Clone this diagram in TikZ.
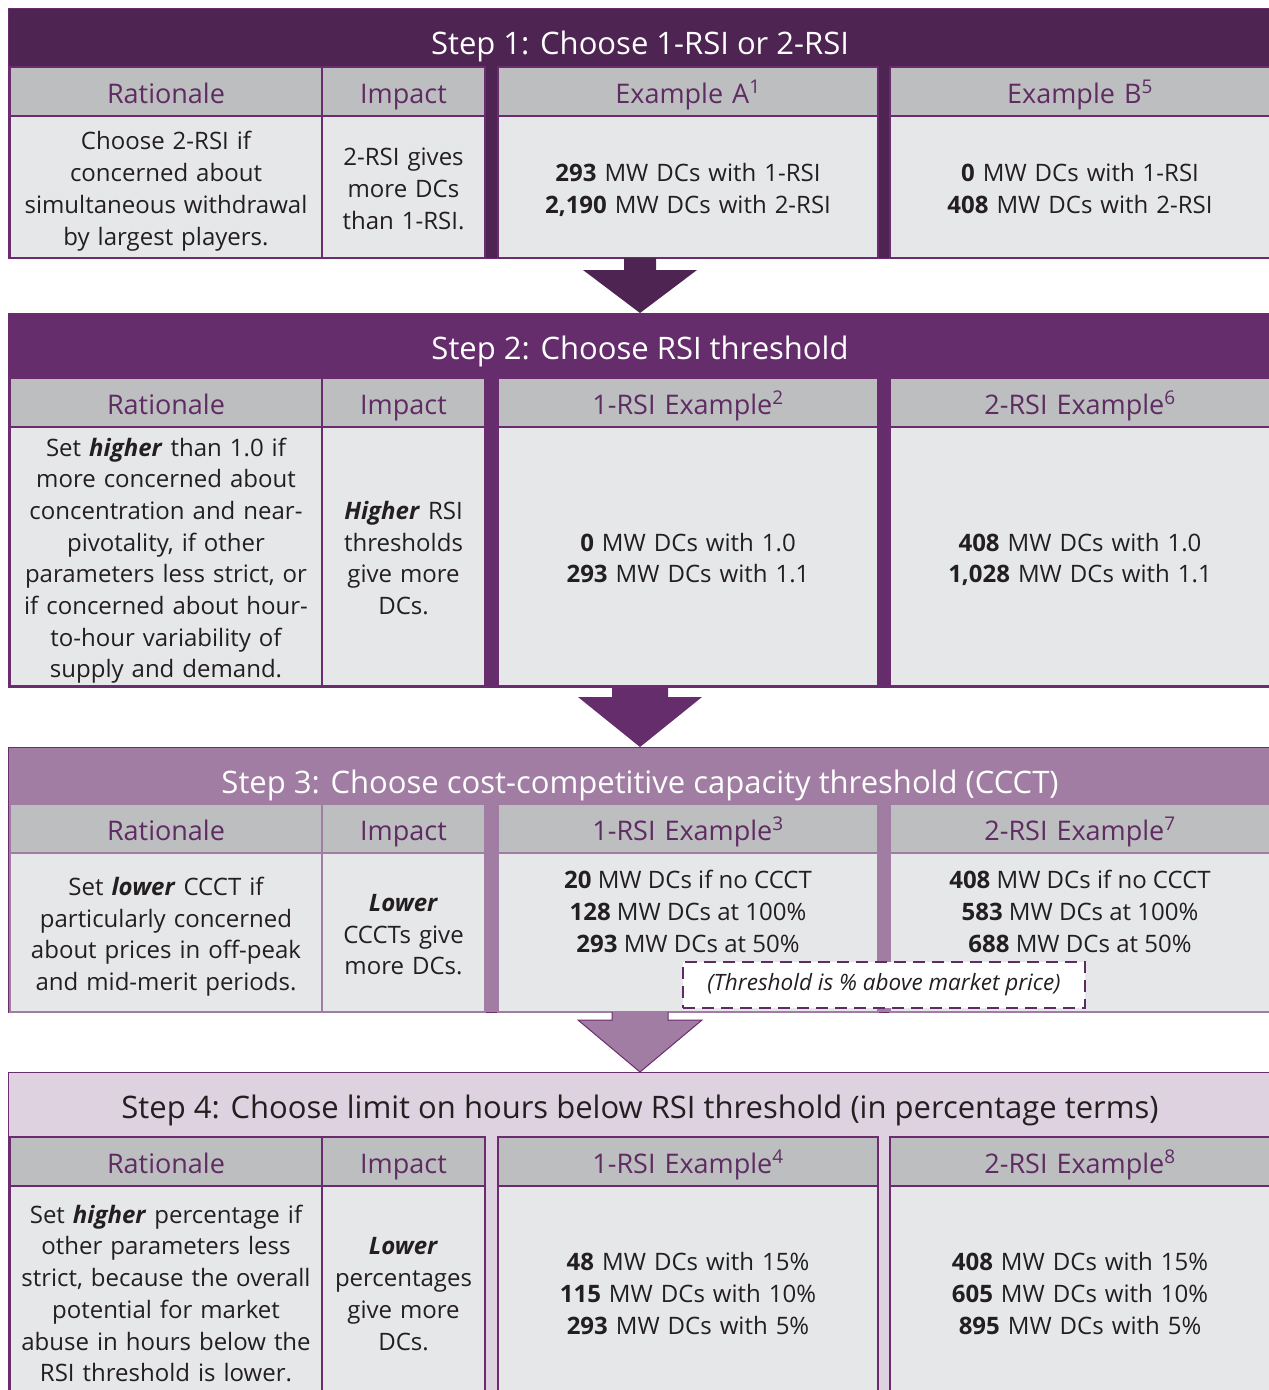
\documentclass[tikz,border=0pt]{standalone}
\usepackage{fontspec}
\setmainfont{Open Sans}
\usetikzlibrary{positioning, calc}

\definecolor{plumA}{HTML}{4E2452}
\definecolor{plumB}{HTML}{652D6C}
\definecolor{plumC}{HTML}{A17DA3}
\definecolor{plumD}{HTML}{DED1E0}
\definecolor{plumline}{HTML}{6A2C6E}
\definecolor{headgray}{HTML}{BDBEC0}
\definecolor{cellgray}{HTML}{E6E7E8}
\definecolor{headtext}{HTML}{5F2B63}
\definecolor{bodytext}{HTML}{231F20}

\begin{document}
\begin{tikzpicture}[
        x=1pt, y=-1pt,
        stepbox/.style={draw=plumline, line width=1pt, minimum width=1264pt,
            anchor=north west, inner sep=0pt, outer sep=0pt},
        steptitle/.style={anchor=base, inner sep=0pt,
            font=\fontsize{31}{36}\selectfont},
        head/.style={draw=#1, line width=1.5pt, fill=headgray, text=headtext,
            minimum height=49pt, inner sep=0pt, outer sep=0pt, align=center,
            font=\fontsize{27}{32}\selectfont, text height=25pt, text depth=2pt},
        head/.default=plumline,
        cell/.style={draw=#1, line width=1.5pt, fill=cellgray, text=bodytext,
            inner sep=0pt, outer sep=0pt, align=center,
            font=\fontsize{24}{31.7}\selectfont,
            execute at begin node={\rule{0pt}{27pt}},
            execute at end node={\rule[-6pt]{0pt}{6pt}}},
        cell/.default=plumline,
        numtext/.style={text=bodytext, inner sep=0pt, align=center,
            font=\fontsize{24}{31.7}\selectfont,
            execute at begin node={\rule{0pt}{27pt}},
            execute at end node={\rule[-6pt]{0pt}{6pt}}},
        notebox/.style={draw=headtext, fill=white, line width=2.5pt,
            dash pattern=on 12pt off 7pt, minimum width=402pt, minimum height=46pt,
            text=bodytext, font=\fontsize{22.5}{26}\selectfont\itshape},
        colR/.style={text width=312pt},
        colI/.style={text width=163pt},
        colE/.style={text width=380pt}]

    \useasboundingbox (0,0) rectangle (1269,1390);
    \clip (0,0) rectangle (1269,1390);

    % step 1
    \node [stepbox, fill=plumA, minimum height=250pt] (s1) at (8,8) {};
    \node [steptitle, text=white] (t1) at ($(s1.north)+(0,46)$) {Step 1: Choose 1-RSI or 2-RSI};
    \node [head, colR, anchor=north west] (h1r) at (10,67) {Rationale};
    \node [head, colI] (h1i) [right=0pt of h1r] {Impact};
    \node [head, colE] (h1a) [right=13pt of h1i] {Example A\textsuperscript{1}};
    \node [head, colE] (h1b) [right=12pt of h1a] {Example B\textsuperscript{5}};
    \node [cell, colR, minimum height=142pt] (b1r) [below=0pt of h1r]
        {Choose 2-RSI if\\concerned about\\simultaneous withdrawal\\by largest players.};
    \node [cell, colI, minimum height=142pt] (b1i) [below=0pt of h1i]
        {2-RSI gives\\more DCs\\than 1-RSI.};
    \node [cell, colE, minimum height=142pt] (b1a) [below=0pt of h1a]
        {\textbf{293} MW DCs with 1-RSI\\\textbf{2,190} MW DCs with 2-RSI};
    \node [cell, colE, minimum height=142pt] (b1b) [below=0pt of h1b]
        {\textbf{0} MW DCs with 1-RSI\\\textbf{408} MW DCs with 2-RSI};

    % step 2
    \node [stepbox, fill=plumB, minimum height=374pt] (s2) at (8,313) {};
    \node [steptitle, text=white] (t2) at ($(s2.north)+(0,46)$) {Step 2: Choose RSI threshold};
    \node [head, colR, anchor=north west] (h2r) at (10,378) {Rationale};
    \node [head, colI] (h2i) [right=0pt of h2r] {Impact};
    \node [head, colE] (h2a) [right=13pt of h2i] {1-RSI Example\textsuperscript{2}};
    \node [head, colE] (h2b) [right=12pt of h2a] {2-RSI Example\textsuperscript{6}};
    \node [cell, colR, minimum height=259pt] (b2r) [below=0pt of h2r]
        {Set \textbf{\textit{higher}} than 1.0 if\\more concerned about\\concentration and near-\\pivotality, if other\\parameters less strict, or\\if concerned about hour-\\to-hour variability of\\supply and demand.};
    \node [cell, colI, minimum height=259pt] (b2i) [below=0pt of h2i]
        {\textbf{\textit{Higher}} RSI\\thresholds\\give more\\DCs.};
    \node [cell, colE, minimum height=259pt] (b2a) [below=0pt of h2a]
        {\textbf{0} MW DCs with 1.0\\\textbf{293} MW DCs with 1.1};
    \node [cell, colE, minimum height=259pt] (b2b) [below=0pt of h2b]
        {\textbf{408} MW DCs with 1.0\\\textbf{1,028} MW DCs with 1.1};

    % step 3
    \node [stepbox, fill=plumC, minimum height=265pt] (s3) at (8,747) {};
    \node [steptitle, text=white] (t3) at ($(s3.north)+(0,46)$) {Step 3: Choose cost-competitive capacity threshold (CCCT)};
    \node [head=plumC, colR, anchor=north west] (h3r) at (10,804) {Rationale};
    \node [head=plumC, colI] (h3i) [right=0pt of h3r] {Impact};
    \node [head=plumC, colE] (h3a) [right=13pt of h3i] {1-RSI Example\textsuperscript{3}};
    \node [head=plumC, colE] (h3b) [right=12pt of h3a] {2-RSI Example\textsuperscript{7}};
    \node [cell=plumC, colR, minimum height=159pt] (b3r) [below=0pt of h3r]
        {Set \textbf{\textit{lower}} CCCT if\\particularly concerned\\about prices in off-peak\\and mid-merit periods.};
    \node [cell=plumC, colI, minimum height=159pt] (b3i) [below=0pt of h3i]
        {\textbf{\textit{Lower}}\\CCCTs give\\more DCs.};
    \node [cell=plumC, colE, minimum height=159pt] (b3a) [below=0pt of h3a] {};
    \node [cell=plumC, colE, minimum height=159pt] (b3b) [below=0pt of h3b] {};
    \node [numtext] (e3a) at ($(b3a.center)+(0,-18)$)
        {\textbf{20} MW DCs if no CCCT\\\textbf{128} MW DCs at 100\%\\\textbf{293} MW DCs at 50\%};
    \node [numtext] (e3b) at ($(b3b.center)+(0,-18)$)
        {\textbf{408} MW DCs if no CCCT\\\textbf{583} MW DCs at 100\%\\\textbf{688} MW DCs at 50\%};
    \node [notebox] (n3) at ($(b3a.south east)!0.5!(b3b.south west)+(0,-27)$)
        {(Threshold is \% above market price)};

    % step 4
    \node [stepbox, fill=plumD, minimum height=330pt] (s4) at (8,1072) {};
    \node [steptitle, text=bodytext] (t4) at ($(s4.north)+(0,46)$) {Step 4: Choose limit on hours below RSI threshold (in percentage terms)};
    \node [head, colR, anchor=north west] (h4r) at (10,1137) {Rationale};
    \node [head, colI] (h4i) [right=0pt of h4r] {Impact};
    \node [head, colE] (h4a) [right=13pt of h4i] {1-RSI Example\textsuperscript{4}};
    \node [head, colE] (h4b) [right=12pt of h4a] {2-RSI Example\textsuperscript{8}};
    \node [cell, colR, minimum height=212pt] (b4r) [below=0pt of h4r]
        {Set \textbf{\textit{higher}} percentage if\\other parameters less\\strict, because the overall\\potential for market\\abuse in hours below the\\RSI threshold is lower.};
    \node [cell, colI, minimum height=212pt] (b4i) [below=0pt of h4i]
        {\textbf{\textit{Lower}}\\percentages\\give more\\DCs.};
    \node [cell, colE, minimum height=212pt] (b4a) [below=0pt of h4a]
        {\textbf{48} MW DCs with 15\%\\\textbf{115} MW DCs with 10\%\\\textbf{293} MW DCs with 5\%};
    \node [cell, colE, minimum height=212pt] (b4b) [below=0pt of h4b]
        {\textbf{408} MW DCs with 15\%\\\textbf{605} MW DCs with 10\%\\\textbf{895} MW DCs with 5\%};

    % arrows between the steps
    \fill [plumA] ($(s1.south)+(-16,0)$) -- ($(s1.south)+(-16,12)$) -- ($(s1.south)+(-57,12)$)
        -- (s2.north) -- ($(s1.south)+(57,12)$) -- ($(s1.south)+(16,12)$) -- ($(s1.south)+(16,0)$) -- cycle;
    \fill [plumB] ($(s2.south)+(-28,0)$) -- ($(s2.south)+(-28,10)$) -- ($(s2.south)+(-62,10)$)
        -- (s3.north) -- ($(s2.south)+(62,10)$) -- ($(s2.south)+(28,10)$) -- ($(s2.south)+(28,0)$) -- cycle;
    \filldraw [fill=plumC, draw=plumline, line width=1pt] ($(s3.south)+(-28,0)$) -- ($(s3.south)+(-28,8)$) -- ($(s3.south)+(-62,8)$)
        -- (s4.north) -- ($(s3.south)+(62,8)$) -- ($(s3.south)+(28,8)$) -- ($(s3.south)+(28,0)$);
\end{tikzpicture}
\end{document}
